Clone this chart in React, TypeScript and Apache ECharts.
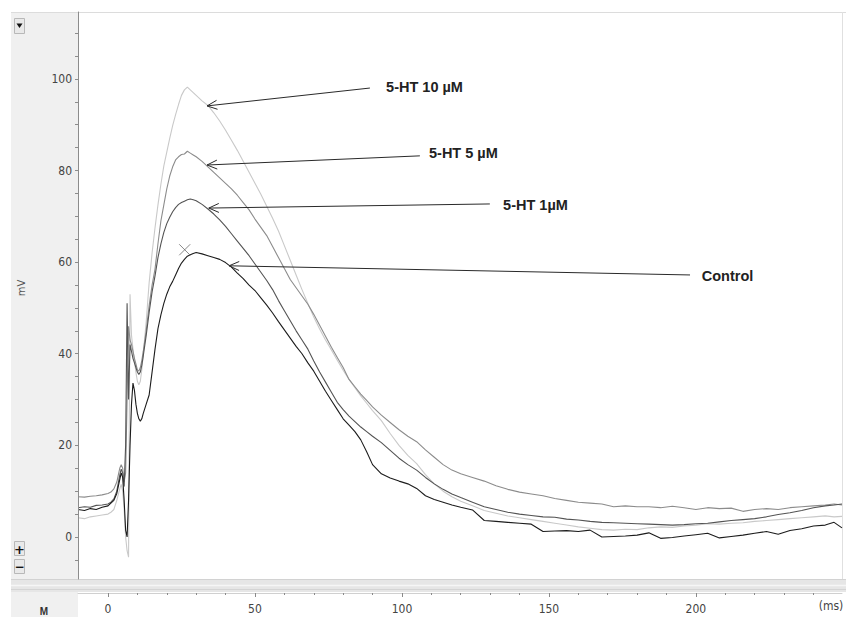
import React, { useEffect, useRef } from "react";
import * as echarts from "echarts";

// Time axis (ms) shared by every trace
const timeMs = [
  -10.2, -8, -6, -4, -2, 0, 1, 2, 3, 4,
  4.5, 5, 5.5, 6, 6.5, 7, 7.5, 8, 8.5, 9,
  9.5, 10, 10.5, 11, 11.5, 12, 13, 14, 15, 16,
  17, 18, 19, 20, 21, 22, 23, 24, 25, 26,
  27, 28, 29, 30, 32, 34, 36, 38, 40, 42,
  44, 46, 48, 50, 52, 54, 56, 58, 60, 62,
  64, 66, 68, 70, 72, 74, 76, 78, 80, 82,
  84, 86, 88, 90, 93, 96, 99, 102, 105, 108,
  111, 114, 117, 120, 124, 128, 132, 136, 140, 144,
  148, 152, 156, 160, 164, 168, 172, 176, 180, 184,
  188, 192, 196, 200, 204, 208, 212, 216, 220, 224,
  228, 232, 236, 240, 244, 247, 249.7,
];

const controlMv = [
  6.0, 5.8, 6.2, 6.0, 6.5, 6.8, 7.4, 8.0, 9.5, 12.5,
  14.0, 13.0, 8.0, 1.5, 0.0, 8.0, 20.0, 29.0, 33.6, 32.0,
  29.0, 27.0, 25.8, 25.3, 25.8, 27.0, 29.0, 31.0, 36.0, 41.0,
  45.5, 48.5, 51.0, 53.0, 54.6, 55.8, 57.2, 58.6, 59.8, 60.6,
  61.3, 61.6, 61.9, 62.1, 61.8, 61.4, 61.0, 60.6, 59.9, 58.9,
  57.6, 56.4, 55.0, 53.8, 52.2, 50.6, 48.9, 47.0, 45.2, 43.4,
  41.6, 40.0, 38.0, 36.2, 34.0, 31.8, 29.8, 27.8, 25.8, 24.4,
  23.0, 21.2, 18.6, 15.8, 13.8, 12.9, 12.2, 11.6, 10.6, 9.0,
  8.2, 7.6, 7.0, 6.5, 5.9, 3.6, 3.4, 3.2, 3.0, 2.8,
  1.2, 1.3, 1.4, 1.2, 1.5, 0.0, 0.1, 0.2, 0.4, 0.9,
  -0.3, -0.1, 0.2, 0.5, 0.8, -0.2, 0.1, 0.4, 0.8, 1.2,
  0.6, 1.4, 1.8, 2.4, 2.6, 3.2, 2.0,
];

const ht1Mv = [
  6.4, 6.6, 6.5, 6.9, 7.0, 7.2, 7.6, 8.3, 10.0, 13.5,
  14.8, 14.0, 11.0, 20.0, 51.0, 30.0, 42.0, 40.5, 39.0, 38.0,
  37.0, 36.0, 35.5, 36.0, 37.5, 39.5, 44.0, 49.0, 53.5, 57.0,
  61.0, 64.0, 66.5, 68.4, 69.8, 71.0, 71.9, 72.6, 73.0, 73.3,
  73.6, 73.8, 73.6, 73.4, 72.6, 71.6, 70.5, 69.2, 67.8, 66.2,
  64.6, 63.0, 61.4, 59.6, 57.8, 56.0, 54.0, 51.6, 49.4, 47.2,
  45.0, 43.0, 41.0, 38.4, 36.0, 33.8, 31.6, 29.4, 27.8, 26.4,
  25.2, 24.0, 23.0, 22.0, 20.6, 18.9, 17.2, 15.8, 14.6, 13.0,
  11.6, 10.4, 9.4, 8.6, 7.6, 6.6, 6.0, 5.4, 5.0, 4.7,
  4.4, 4.3, 3.9, 3.7, 3.4, 3.2, 3.1, 3.0, 2.9, 2.8,
  2.7, 2.6, 2.7, 2.9, 3.0, 3.3, 3.6, 3.8, 4.0, 4.4,
  4.9, 5.3, 5.8, 6.4, 6.8, 7.0, 7.2,
];

const ht5Mv = [
  8.8, 8.7, 8.9, 9.0, 9.2, 9.5, 9.8, 10.5, 12.0, 15.0,
  15.8, 15.0, 12.0, 14.0, 30.0, 46.0, 43.0, 42.0, 40.5, 39.0,
  37.8, 36.5, 36.2, 37.0, 38.5, 40.5, 45.0, 50.5, 55.0, 58.5,
  64.0, 69.0, 72.5, 76.0, 78.8, 80.8, 82.3, 83.0, 83.5, 83.6,
  84.2, 83.8, 83.4, 83.0, 82.0, 80.8, 79.6, 78.4, 77.2, 76.0,
  74.6, 73.0, 71.4, 69.4, 67.6, 65.8, 63.4, 61.0, 58.6, 56.2,
  54.4, 52.6, 50.8, 48.6, 46.2, 43.8, 41.4, 39.2, 37.0, 34.4,
  32.8, 31.2, 29.8, 28.4, 26.6, 25.0, 23.4, 22.0, 20.8, 19.0,
  17.4, 15.8, 14.6, 13.8, 13.0, 12.2, 11.2, 10.4, 9.8, 9.4,
  9.0, 8.4, 8.0, 7.6, 7.4, 7.2, 6.6, 6.8, 6.6, 6.6,
  6.4, 6.7, 6.4, 6.0, 6.4, 6.2, 6.3, 5.6, 6.0, 6.2,
  6.0, 6.4, 6.6, 6.8, 7.0, 7.2, 7.0,
];

const ht10Mv = [
  4.2, 4.0, 4.4, 4.6, 4.8, 5.0, 5.4, 6.0, 8.0, 10.5,
  11.5, 10.0, 6.0, 0.0, -3.0, -4.4, 53.0, 44.0, 41.0, 38.5,
  36.0, 34.0, 33.2, 34.0, 36.5, 40.0, 47.0, 55.5, 62.0, 67.5,
  72.5, 77.0, 81.0, 84.0, 87.0, 89.8, 92.2, 94.4, 96.4, 97.6,
  98.2, 97.6, 97.0, 96.4, 95.2, 94.2, 92.6, 90.8, 88.8, 86.6,
  84.4, 82.0, 79.6, 77.2, 74.8, 72.2, 69.6, 66.8, 63.6, 60.4,
  57.2, 54.0, 51.0, 48.0, 45.4, 43.0, 40.8, 38.6, 36.4, 34.4,
  32.6, 30.8, 29.2, 27.6, 25.4, 22.6, 20.0, 17.8, 16.0, 13.6,
  11.6, 10.0, 8.8, 7.8, 6.8, 5.8, 5.2, 4.6, 4.2, 3.8,
  3.4, 3.0, 2.6, 2.2, 1.9, 1.6, 1.5, 1.7, 1.6, 2.0,
  2.2, 2.1, 2.4, 2.6, 2.9, 2.8, 3.0, 3.1, 3.4, 3.6,
  3.8, 4.0, 4.2, 4.4, 4.6, 4.4, 4.5,
];

const yLabelValues = [0, 20, 40, 60, 80, 100];
const yTickValues = [-5, 0, 5, 10, 15, 20, 25, 30, 35, 40, 45, 50, 55, 60, 65, 70, 75, 80, 85, 90, 95, 100, 105, 110];
const xLabelValues = [0, 50, 100, 150, 200];
const xMinorTickValues = [0, 10, 20, 30, 40, 50, 60, 70, 80, 90, 100, 110, 120, 130, 140, 150, 160, 170, 180, 190, 200, 210, 220, 230, 240];

// Annotations (data coordinates: [ms, mV])
const annotationLabels = ["5-HT 10 µM", "5-HT 5 µM", "5-HT 1µM", "Control"];
const arrowTips = [[33.7, 94.1], [33.7, 81.2], [34.3, 71.8], [41.2, 59.2]];
const arrowTails = [[89.1, 98.0], [106.1, 83.2], [129.9, 72.7], [198.0, 57.2]];
const labelAnchors = [[94.6, 98.3], [109.2, 83.8], [134.4, 72.5], [202.0, 57.0]];
const cursorMark = [[26.1, 62.7]];

const narrowFont = "'Liberation Sans Narrow', 'DejaVu Sans Condensed', 'Roboto Condensed', sans-serif";

export default function App() {
  const ref = useRef<HTMLDivElement>(null);

  useEffect(() => {
    if (!ref.current) return;
    const chart = echarts.init(ref.current, null, { renderer: "svg" });
    const mk = (vals: number[]) => timeMs.map((t, i) => [t, vals[i]]);
    const lineSeries = (name: string, vals: number[], color: string) => ({
      name,
      type: "line",
      data: mk(vals),
      showSymbol: false,
      symbol: "none",
      lineStyle: { color, width: 1.1 },
      itemStyle: { color },
      silent: true,
      z: 3,
    });

    const xBase = {
      type: "value",
      min: -10.2,
      max: 249.7,
      position: "bottom",
      offset: 14,
      splitLine: { show: false },
      z: 5,
    };

    chart.setOption({
      animation: false,
      backgroundColor: "#ffffff",
      grid: { left: 78, top: 12, right: 4, bottom: 38, containLabel: false },
      xAxis: [
        {
          ...xBase,
          axisLine: { show: true, onZero: false, lineStyle: { color: "#d0d0d0", width: 1 } },
          axisTick: { show: true, inside: false, length: 2, customValues: xMinorTickValues, lineStyle: { color: "#8a8a8a" } },
          axisLabel: { show: true, customValues: xLabelValues, margin: 10, color: "#444", fontSize: 12, fontFamily: narrowFont },
        },
        {
          ...xBase,
          axisLine: { show: false, onZero: false },
          axisTick: { show: true, inside: false, length: 4, customValues: xLabelValues, lineStyle: { color: "#8a8a8a" } },
          axisLabel: { show: false },
        },
      ],
      yAxis: {
        type: "value",
        min: -9.17,
        max: 114.6,
        position: "left",
        z: 5,
        axisLine: { show: true, onZero: false, lineStyle: { color: "#8c8c8c", width: 1 } },
        axisTick: { show: true, inside: false, length: 3, customValues: yTickValues, lineStyle: { color: "#8c8c8c" } },
        axisLabel: { show: true, customValues: yLabelValues, margin: 6, color: "#444", fontSize: 12, fontFamily: narrowFont },
        splitLine: { show: false },
      },
      series: [
        lineSeries(annotationLabels[0], ht10Mv, "#c9c9c9"),
        lineSeries(annotationLabels[1], ht5Mv, "#8c8c8c"),
        lineSeries(annotationLabels[2], ht1Mv, "#545454"),
        lineSeries(annotationLabels[3], controlMv, "#1c1c1c"),
        {
          name: "cursor",
          type: "scatter",
          data: cursorMark,
          symbol: "path://M0,0L10,10M10,0L0,10",
          symbolSize: 11,
          itemStyle: { color: "rgba(0,0,0,0)", borderColor: "#6a6a6a", borderWidth: 1 },
          silent: true,
          z: 6,
        },
      ],
    });

    const px = (p: number[]) => chart.convertToPixel({ seriesIndex: 0 }, p) as number[];

    const annotationEls: any[] = [];
    annotationLabels.forEach((label, i) => {
      const tip = px(arrowTips[i]);
      const tail = px(arrowTails[i]);
      const lab = px(labelAnchors[i]);
      const dx = tail[0] - tip[0];
      const dy = tail[1] - tip[1];
      const len = Math.sqrt(dx * dx + dy * dy);
      const ux = dx / len;
      const uy = dy / len;
      const L = 11;
      const th = 0.42;
      const rot = (a: number) => [tip[0] + L * (ux * Math.cos(a) - uy * Math.sin(a)), tip[1] + L * (ux * Math.sin(a) + uy * Math.cos(a))];
      const a1 = rot(th);
      const a2 = rot(-th);
      annotationEls.push({
        type: "line",
        z: 8,
        shape: { x1: tip[0], y1: tip[1], x2: tail[0], y2: tail[1] },
        style: { stroke: "#2a2a2a", lineWidth: 1 },
      });
      annotationEls.push({
        type: "polyline",
        z: 8,
        shape: { points: [a1, tip, a2] },
        style: { stroke: "#2a2a2a", lineWidth: 1, fill: null },
      });
      annotationEls.push({
        type: "text",
        z: 8,
        x: lab[0],
        y: lab[1],
        style: {
          text: label,
          fill: "#222",
          font: "bold 14.5px 'Liberation Sans', Arial, sans-serif",
          align: "left",
          verticalAlign: "middle",
        },
      });
    });

    const staticEls: any[] = [
      // left control panel
      { type: "rect", z: 0, shape: { x: 11, y: 12, width: 67, height: 605 }, style: { fill: "#f0f0f0" } },
      // top border
      { type: "line", z: 1, shape: { x1: 11, y1: 12.5, x2: 846, y2: 12.5 }, style: { stroke: "#dcdcdc", lineWidth: 1 } },
      // right border of plot
      { type: "line", z: 1, shape: { x1: 842.5, y1: 12, x2: 842.5, y2: 579 }, style: { stroke: "#e0e0e0", lineWidth: 1 } },
      // splitter band
      { type: "rect", z: 1, shape: { x: 11, y: 579, width: 835, height: 13 }, style: { fill: "#e6e6e6" } },
      { type: "line", z: 1, shape: { x1: 11, y1: 579.5, x2: 846, y2: 579.5 }, style: { stroke: "#d2d2d2", lineWidth: 1 } },
      { type: "line", z: 1, shape: { x1: 11, y1: 585.5, x2: 846, y2: 585.5 }, style: { stroke: "#f6f6f6", lineWidth: 1.5 } },
      { type: "line", z: 1, shape: { x1: 11, y1: 589.5, x2: 846, y2: 589.5 }, style: { stroke: "#d4d4d4", lineWidth: 1 } },
      // dropdown button
      { type: "rect", z: 6, shape: { x: 14.5, y: 18.5, width: 10, height: 15 }, style: { fill: "#e9e9e9", stroke: "#b8b8b8", lineWidth: 1 } },
      { type: "polygon", z: 7, shape: { points: [[16.5, 23.5], [22.5, 23.5], [19.5, 28]] }, style: { fill: "#111" } },
      // zoom buttons
      { type: "rect", z: 6, shape: { x: 14.5, y: 541.5, width: 10, height: 14 }, style: { fill: "#e9e9e9", stroke: "#b8b8b8", lineWidth: 1 } },
      { type: "text", z: 7, x: 19.5, y: 549, style: { text: "+", fill: "#111", font: "bold 13px 'DejaVu Sans', sans-serif", align: "center", verticalAlign: "middle" } },
      { type: "rect", z: 6, shape: { x: 14.5, y: 559.5, width: 10, height: 14 }, style: { fill: "#e9e9e9", stroke: "#b8b8b8", lineWidth: 1 } },
      { type: "text", z: 7, x: 19.5, y: 566.5, style: { text: "−", fill: "#111", font: "bold 12px 'DejaVu Sans', sans-serif", align: "center", verticalAlign: "middle" } },
      // unit labels
      { type: "text", z: 7, x: 21, y: 288, rotation: Math.PI / 2, style: { text: "mV", fill: "#555", font: `11px ${narrowFont}`, align: "center", verticalAlign: "middle" } },
      { type: "text", z: 7, x: 44, y: 611, style: { text: "M", fill: "#333", font: "bold 10px 'Liberation Sans', Arial, sans-serif", align: "center", verticalAlign: "middle" } },
      { type: "text", z: 7, x: 831, y: 606, style: { text: "(ms)", fill: "#444", font: `12px ${narrowFont}`, align: "center", verticalAlign: "middle" } },
    ];

    chart.setOption({ graphic: { elements: [...staticEls, ...annotationEls] } });

    return () => chart.dispose();
  }, []);

  return (
    <div
      ref={ref}
      style={{ position: "fixed", left: 0, top: 0, width: 846, height: 617, background: "#ffffff" }}
    />
  );
}
